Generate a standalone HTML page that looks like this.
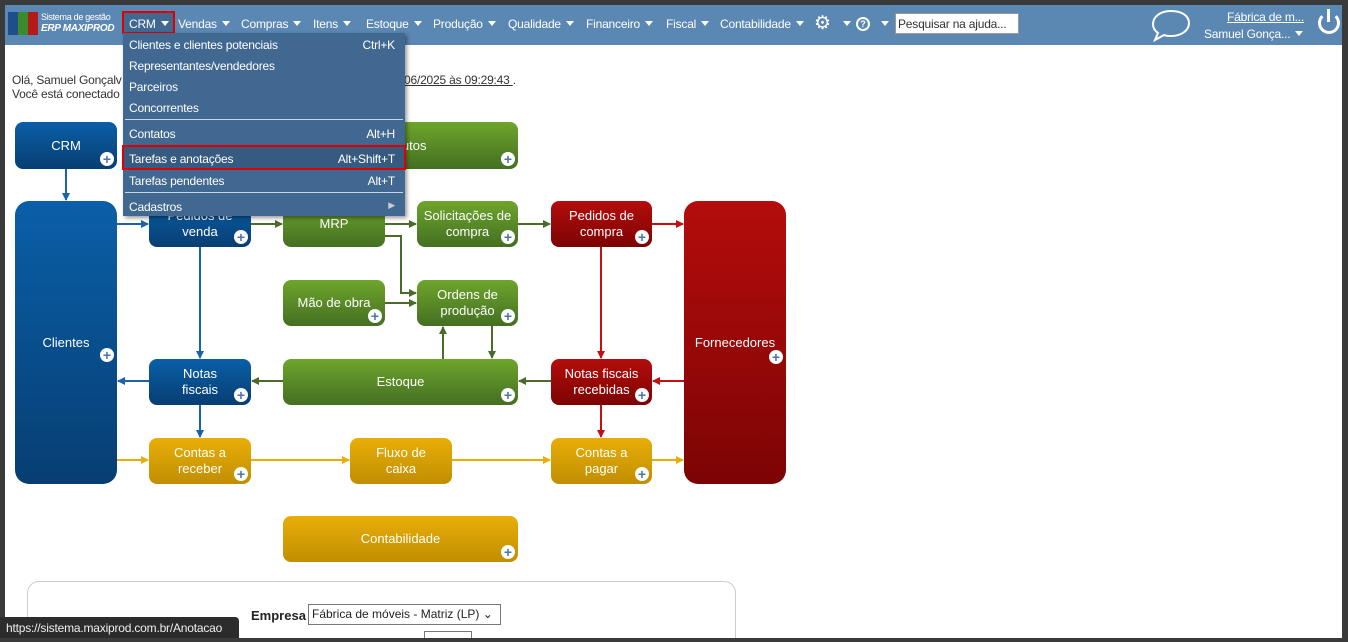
<!DOCTYPE html>
<html><head><meta charset="utf-8"><style>
*{box-sizing:border-box;margin:0;padding:0}
body{width:1348px;height:642px;overflow:hidden;background:#3a3a3a;font-family:"Liberation Sans",sans-serif;position:relative}
.page{position:absolute;left:5px;top:5px;width:1337px;height:633px;background:#fff;overflow:hidden}
.nav{position:absolute;left:5px;top:5px;width:1337px;height:40px;background:#5b87b3}
.nm{position:absolute;top:17px;color:#fff;font-size:12px;letter-spacing:-0.2px;white-space:nowrap}
.tri{display:inline-block;width:0;height:0;border-left:4px solid transparent;border-right:4px solid transparent;border-top:5px solid #fff;margin-left:5px;vertical-align:2px}
.b{position:absolute;border-radius:8px;color:#fff;font-size:13px;display:flex;align-items:center;justify-content:center;text-align:center;line-height:16px}
.bl{background:linear-gradient(#0a5fa8,#073e72)}
.gr{background:linear-gradient(#6ea52c,#446f22)}
.rd{background:linear-gradient(#b50c0c,#7c0404)}
.ye{background:linear-gradient(#e8ae07,#c18e02)}
.p{position:absolute;right:3px;bottom:3px;width:14px;height:14px;border-radius:50%;background:#fff;color:#4d75a8;font-size:14px;font-weight:bold;line-height:14px;text-align:center}
.menu{position:absolute;left:123px;top:33px;width:282px;height:183px;background:#416891;box-shadow:2px 2px 4px rgba(0,0,0,.4);color:#fff;font-size:12px;letter-spacing:-0.2px}
.mi{position:absolute;left:6px;width:270px}
.mi i{position:absolute;right:4px;font-style:normal}
.sep{position:absolute;left:2px;width:278px;height:1px;background:#c9d6e3}
</style></head><body>
<div class="page">
<div style="position:absolute;left:22px;top:576px;width:709px;height:80px;border:1px solid #ccc;border-radius:12px"></div>
<div style="position:absolute;left:246px;top:603px;font-size:13px;font-weight:bold;color:#222">Empresa</div>
<div style="position:absolute;left:303px;top:599px;width:193px;height:21px;border:1px solid #777;font-size:12px;padding:2px 3px;color:#222">Fábrica de móveis - Matriz (LP) ⌄</div>
<div style="position:absolute;left:419px;top:626px;width:48px;height:12px;border:1px solid #777;border-bottom:none"></div>
</div>
<div class="nav"></div>
<div style="position:absolute;left:8px;top:12px;width:30px;height:23px;background:linear-gradient(90deg,#1e4f8c 33%,#3a8a2e 33%,#3a8a2e 66%,#b41a1a 66%)"></div>
<div style="position:absolute;left:41px;top:12px;color:#fff;font-size:9px;letter-spacing:-0.3px">Sistema de gestão</div>
<div style="position:absolute;left:41px;top:23px;color:#fff;font-size:10px;font-style:italic;font-weight:bold;letter-spacing:-0.3px">ERP MAXIPROD</div>
<div style="position:absolute;left:122px;top:11px;width:53px;height:23px;border:2px solid #e00000;background:#416891"></div>
<div class="nm" style="left:129px">CRM<span class="tri"></span></div>
<div class="nm" style="left:178px">Vendas<span class="tri"></span></div>
<div class="nm" style="left:241px">Compras<span class="tri"></span></div>
<div class="nm" style="left:313px">Itens<span class="tri"></span></div>
<div class="nm" style="left:366px">Estoque<span class="tri"></span></div>
<div class="nm" style="left:433px">Produção<span class="tri"></span></div>
<div class="nm" style="left:508px">Qualidade<span class="tri"></span></div>
<div class="nm" style="left:586px">Financeiro<span class="tri"></span></div>
<div class="nm" style="left:666px">Fiscal<span class="tri"></span></div>
<div class="nm" style="left:720px">Contabilidade<span class="tri"></span></div>
<div style="position:absolute;top:12px;left:814px;color:#fff;font-size:19px">⚙</div>
<div class="nm" style="left:838px"><span class="tri"></span></div>
<div style="position:absolute;top:17px;left:856px;width:14px;height:14px;border:2px solid #fff;border-radius:50%;color:#fff;font-size:9px;text-align:center;line-height:10px;font-weight:bold">?</div>
<div class="nm" style="left:876px"><span class="tri"></span></div>
<div style="position:absolute;left:895px;top:13px;width:124px;height:21px;background:#fff;border:1px solid #999;font-size:12px;color:#333;padding:3px 2px;letter-spacing:-0.2px">Pesquisar na ajuda...</div>
<svg style="position:absolute;left:1150px;top:8px" width="42" height="34"><path d="M21 3C10 3 3 9 3 16c0 4 2 7 5 9l-3 7 9-5c2 1 4 1 7 1 11 0 18-6 18-13S32 3 21 3z" fill="none" stroke="#fff" stroke-width="2"/></svg>
<div style="position:absolute;left:1227px;top:10px;color:#fff;font-size:12px;text-decoration:underline;letter-spacing:-0.2px">Fábrica de m...</div>
<div style="position:absolute;left:1204px;top:27px;color:#fff;font-size:12px;letter-spacing:-0.2px">Samuel Gonça...<span class="tri"></span></div>
<div style="position:absolute;left:1318px;top:12px;width:22px;height:22px;border:3px solid #fff;border-radius:50%;border-top-color:transparent"></div>
<div style="position:absolute;left:1327px;top:9px;width:3px;height:13px;background:#fff"></div>

<div style="position:absolute;left:12px;top:73px;font-size:12px;color:#333;line-height:14px;letter-spacing:-0.2px">Olá, Samuel Gonçalv<br>Você está conectado</div>
<div style="position:absolute;left:404px;top:73px;font-size:12px;color:#333;letter-spacing:-0.2px"><u>06/2025 às 09:29:43 </u>.</div>

<svg style="position:absolute;left:0;top:0" width="1348" height="642">
<defs>
<marker id="ab" markerWidth="8" markerHeight="8" refX="7" refY="4" orient="auto" markerUnits="userSpaceOnUse"><path d="M0,0L8,4L0,8z" fill="#1a63a8"/></marker>
<marker id="ag" markerWidth="8" markerHeight="8" refX="7" refY="4" orient="auto" markerUnits="userSpaceOnUse"><path d="M0,0L8,4L0,8z" fill="#4a6b2a"/></marker>
<marker id="ar" markerWidth="8" markerHeight="8" refX="7" refY="4" orient="auto" markerUnits="userSpaceOnUse"><path d="M0,0L8,4L0,8z" fill="#c01010"/></marker>
<marker id="ay" markerWidth="8" markerHeight="8" refX="7" refY="4" orient="auto" markerUnits="userSpaceOnUse"><path d="M0,0L8,4L0,8z" fill="#e8ae07"/></marker>
</defs>
<g stroke-width="2" fill="none">
<path d="M66 169V200" stroke="#1a63a8" marker-end="url(#ab)"/>
<path d="M117 224H148" stroke="#1a63a8" marker-end="url(#ab)"/>
<path d="M200 247V358" stroke="#1a63a8" marker-end="url(#ab)"/>
<path d="M149 381H118" stroke="#1a63a8" marker-end="url(#ab)"/>
<path d="M200 405V437" stroke="#1a63a8" marker-end="url(#ab)"/>
<path d="M251 224H282" stroke="#4a6b2a" marker-end="url(#ag)"/>
<path d="M385 224H416" stroke="#4a6b2a" marker-end="url(#ag)"/>
<path d="M518 224H550" stroke="#4a6b2a" marker-end="url(#ag)"/>
<path d="M385 236H401V293H416" stroke="#4a6b2a" marker-end="url(#ag)"/>
<path d="M385 303H416" stroke="#4a6b2a" marker-end="url(#ag)"/>
<path d="M443 359V327" stroke="#4a6b2a" marker-end="url(#ag)"/>
<path d="M492 326V358" stroke="#4a6b2a" marker-end="url(#ag)"/>
<path d="M283 381H252" stroke="#4a6b2a" marker-end="url(#ag)"/>
<path d="M551 381H519" stroke="#4a6b2a" marker-end="url(#ag)"/>
<path d="M652 224H683" stroke="#c01010" marker-end="url(#ar)"/>
<path d="M601 247V358" stroke="#c01010" marker-end="url(#ar)"/>
<path d="M684 381H653" stroke="#c01010" marker-end="url(#ar)"/>
<path d="M601 405V437" stroke="#c01010" marker-end="url(#ar)"/>
<path d="M117 460H148" stroke="#e8ae07" marker-end="url(#ay)"/>
<path d="M251 460H349" stroke="#e8ae07" marker-end="url(#ay)"/>
<path d="M452 460H550" stroke="#e8ae07" marker-end="url(#ay)"/>
<path d="M652 460H683" stroke="#e8ae07" marker-end="url(#ay)"/>
</g></svg>

<div class="b bl" style="left:15px;top:122px;width:102px;height:47px">CRM<div class="p">+</div></div>
<div class="b gr" style="left:283px;top:122px;width:235px;height:47px">Produtos<div class="p">+</div></div>
<div class="b bl" style="left:15px;top:201px;width:102px;height:283px;border-radius:14px">Clientes<div class="p" style="bottom:122px">+</div></div>
<div class="b bl" style="left:149px;top:201px;width:102px;height:46px">Pedidos de<br>venda<div class="p">+</div></div>
<div class="b gr" style="left:283px;top:201px;width:102px;height:46px;align-items:flex-start;padding-top:15px">MRP</div>
<div class="b gr" style="left:417px;top:201px;width:101px;height:46px">Solicitações de<br>compra<div class="p">+</div></div>
<div class="b rd" style="left:551px;top:201px;width:101px;height:46px">Pedidos de<br>compra<div class="p">+</div></div>
<div class="b rd" style="left:684px;top:201px;width:102px;height:283px;border-radius:14px">Fornecedores<div class="p" style="bottom:120px">+</div></div>
<div class="b gr" style="left:283px;top:280px;width:102px;height:46px">Mão de obra<div class="p">+</div></div>
<div class="b gr" style="left:417px;top:280px;width:101px;height:46px">Ordens de<br>produção<div class="p">+</div></div>
<div class="b bl" style="left:149px;top:359px;width:102px;height:46px">Notas<br>fiscais<div class="p">+</div></div>
<div class="b gr" style="left:283px;top:359px;width:235px;height:46px">Estoque<div class="p">+</div></div>
<div class="b rd" style="left:551px;top:359px;width:101px;height:46px">Notas fiscais<br>recebidas<div class="p">+</div></div>
<div class="b ye" style="left:149px;top:438px;width:102px;height:46px">Contas a<br>receber<div class="p">+</div></div>
<div class="b ye" style="left:350px;top:438px;width:102px;height:46px">Fluxo de<br>caixa</div>
<div class="b ye" style="left:551px;top:438px;width:101px;height:46px">Contas a<br>pagar<div class="p">+</div></div>
<div class="b ye" style="left:283px;top:516px;width:235px;height:46px">Contabilidade<div class="p">+</div></div>

<div style="position:absolute;left:0;top:617px;width:239px;height:21px;background:#2c2c2c;border-radius:0 4px 0 0;color:#eee;font-size:12px;padding:4px 6px;letter-spacing:-0.2px">https://sistema.maxiprod.com.br/Anotacao</div>

<div class="menu">
<div class="mi" style="top:5px">Clientes e clientes potenciais<i>Ctrl+K</i></div>
<div class="mi" style="top:26px">Representantes/vendedores</div>
<div class="mi" style="top:47px">Parceiros</div>
<div class="mi" style="top:68px">Concorrentes</div>
<div class="sep" style="top:86px"></div>
<div class="mi" style="top:94px">Contatos<i>Alt+H</i></div>
<div style="position:absolute;left:-1px;top:112px;width:284px;height:25px;border:2px solid #e00000;background:#365a80"></div>
<div class="mi" style="top:119px">Tarefas e anotações<i>Alt+Shift+T</i></div>
<div class="mi" style="top:141px">Tarefas pendentes<i>Alt+T</i></div>
<div class="sep" style="top:159px"></div>
<div class="mi" style="top:167px">Cadastros<i style="font-size:9px;color:#ccc">▶</i></div>
</div>
</body></html>
